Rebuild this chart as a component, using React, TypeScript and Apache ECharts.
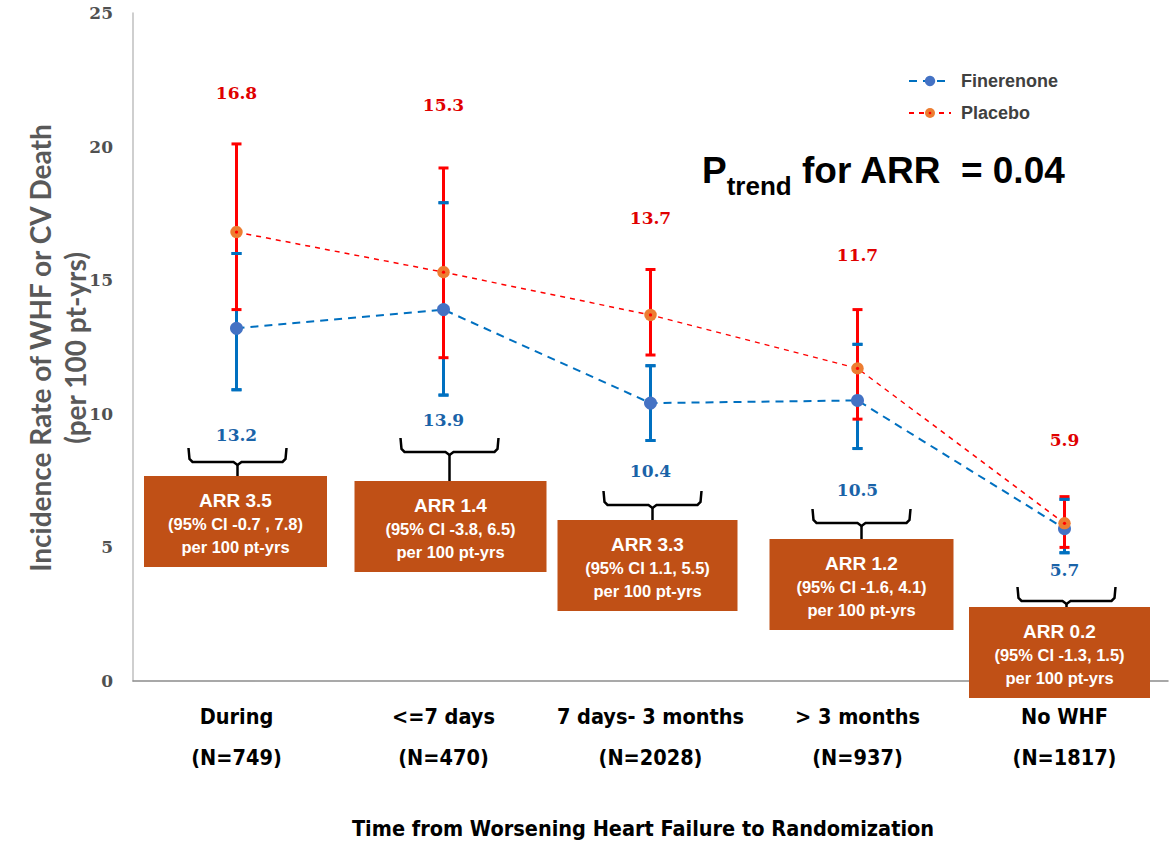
import React, { useEffect, useRef } from "react";
import * as echarts from "echarts";

// ---- data ----
const categories = ["During", "<=7 days", "7 days- 3 months", "> 3 months", "No WHF"];
const sampleSizes = ["(N=749)", "(N=470)", "(N=2028)", "(N=937)", "(N=1817)"];
const finerenone = [13.2, 13.9, 10.4, 10.5, 5.7];
const finLow = [10.9, 10.7, 9.0, 8.7, 4.8];
const finHigh = [16.0, 17.9, 11.8, 12.6, 6.8];
const placebo = [16.8, 15.3, 13.7, 11.7, 5.9];
const plaLow = [13.9, 12.1, 12.2, 9.8, 5.0];
const plaHigh = [20.1, 19.2, 15.4, 13.9, 6.9];
const arrValues = ["3.5", "1.4", "3.3", "1.2", "0.2"];
const arrCI = ["(95% CI -0.7 , 7.8)", "(95% CI -3.8, 6.5)", "(95% CI 1.1, 5.5)", "(95% CI -1.6, 4.1)", "(95% CI -1.3, 1.5)"];
const yTicks = { min: 0, max: 25, interval: 5 };

// ---- annotation layout (pixels) ----
const redLabelY = [93, 105, 218, 255, 440];
const blueLabelY = [435, 420, 471, 490, 570];
const braceTopY = [448, 438, 491, 509, 587];
const braceDx = [1, 6, 2, 4, 2];
const boxTopY = [476, 481, 520, 539, 607];
const boxW = [183, 192, 180, 184, 181];
const boxDx = [-1, 7, -3, 4, -5];

const FIN_LINE = "#0070C0";
const FIN_DOT = "#4472C4";
const PLA_LINE = "#FF0000";
const PLA_DOT = "#ED7D31";
const BOX = "#C05016";
const NARROW = "'Liberation Sans Narrow', 'DejaVu Sans Condensed', Lato, sans-serif";
const SANS = "'Liberation Sans', Arial, sans-serif";

const placeboSvg =
  '<svg xmlns="http://www.w3.org/2000/svg" width="24" height="24" viewBox="0 0 24 24"><circle cx="12" cy="12" r="11.5" fill="#ED7D31"/><circle cx="12" cy="12" r="3" fill="#FF0000"/></svg>';
const placeboSymbol = "image://data:image/svg+xml;charset=utf-8," + encodeURIComponent(placeboSvg);

function measure(text: string, font: string): number {
  const c = document.createElement("canvas").getContext("2d");
  if (!c) return text.length * 10;
  c.font = font;
  return c.measureText(text).width;
}

function errorSeries(name: string, lows: number[], highs: number[], color: string, bar: boolean, caps: boolean, z: number) {
  return {
    type: "custom",
    name,
    z,
    silent: true,
    data: lows.map((l, i) => [i, l, highs[i]]),
    renderItem: (params: any, api: any) => {
      const x = api.value(0);
      const pLo = api.coord([x, api.value(1)]);
      const pHi = api.coord([x, api.value(2)]);
      const w = 5;
      const children: any[] = [];
      const st = { stroke: color, lineWidth: 3 };
      if (bar) children.push({ type: "line", shape: { x1: pLo[0], y1: pLo[1], x2: pHi[0], y2: pHi[1] }, style: st });
      if (caps) {
        children.push({ type: "line", shape: { x1: pLo[0] - w, y1: pLo[1], x2: pLo[0] + w, y2: pLo[1] }, style: st });
        children.push({ type: "line", shape: { x1: pHi[0] - w, y1: pHi[1], x2: pHi[0] + w, y2: pHi[1] }, style: st });
      }
      return { type: "group", children };
    },
  };
}

export default function App() {
  const ref = useRef<HTMLDivElement>(null);
  useEffect(() => {
    if (!ref.current) return;
    const chart = echarts.init(ref.current, undefined, { renderer: "svg" });
    const option: any = {
      animation: false,
      backgroundColor: "#ffffff",
      grid: { left: 133, right: 7, top: 13, bottom: 160 },
      legend: {
        data: [{ name: "Finerenone" }, { name: "Placebo" }],
        orient: "vertical",
        left: 903,
        top: 67,
        itemWidth: 42,
        itemHeight: 13,
        itemGap: 14,
        textStyle: { fontFamily: SANS, fontWeight: "bold", fontSize: 18, color: "#404040", padding: [0, 0, 0, 5] },
      },
      xAxis: {
        type: "category",
        data: categories,
        boundaryGap: true,
        axisLine: { show: true, lineStyle: { color: "#8C8C8C", width: 1.5 } },
        axisTick: { show: false },
        splitLine: { show: false },
        axisLabel: {
          interval: 0,
          margin: 15,
          formatter: (v: string, i: number) => `{c|${v}}\n{n|${sampleSizes[i]}}`,
          rich: {
            c: { fontFamily: NARROW, fontWeight: "bold", fontSize: 21.5, color: "#000", lineHeight: 41 },
            n: { fontFamily: NARROW, fontWeight: "bold", fontSize: 21.5, color: "#000", lineHeight: 41 },
          },
        },
      },
      yAxis: {
        type: "value",
        min: yTicks.min,
        max: yTicks.max,
        interval: yTicks.interval,
        axisLine: { show: true, lineStyle: { color: "#BFBFBF", width: 1.5 } },
        axisTick: { show: false },
        splitLine: { show: false },
        axisLabel: { fontFamily: "DejaVu Serif", fontWeight: "bold", fontSize: 17, color: "#505050", margin: 20 },
      },
      series: [
        errorSeries("finErr", finLow, finHigh, FIN_LINE, true, true, 1),
        errorSeries("plaErr", plaLow, plaHigh, PLA_LINE, true, true, 2),
        errorSeries("finCaps", finLow, finHigh, FIN_LINE, false, true, 3),
        {
          type: "line",
          name: "Finerenone",
          data: finerenone,
          z: 4,
          symbol: "circle",
          symbolSize: 13,
          itemStyle: { color: FIN_DOT },
          lineStyle: { color: FIN_LINE, width: 2, type: [8, 6] },
        },
        {
          type: "line",
          name: "Placebo",
          data: placebo,
          z: 5,
          symbol: placeboSymbol,
          symbolSize: 13,
          itemStyle: { color: PLA_DOT },
          lineStyle: { color: PLA_LINE, width: 1.5, type: [5, 5] },
        },
      ],
    };
    chart.setOption(option);

    const graphics: any[] = [];
    graphics.push({
      type: "text",
      x: 57,
      y: 348,
      rotation: Math.PI / 2,
      style: {
        text: "Incidence Rate of WHF or CV Death\n(per 100 pt-yrs)",
        fontFamily: "Lato",
        fontWeight: "bold",
        fontSize: 28,
        lineHeight: 35,
        fill: "#595959",
        align: "center",
        verticalAlign: "middle",
      },
    });
    graphics.push({
      type: "text",
      x: 643,
      y: 828,
      style: {
        text: "Time from Worsening Heart Failure to Randomization",
        fontFamily: NARROW,
        fontWeight: "bold",
        fontSize: 21.5,
        fill: "#000",
        align: "center",
        verticalAlign: "middle",
      },
    });
    // P trend
    const pMain = 37;
    const pSub = 26;
    const px = 702;
    const wP = measure("P", `bold ${pMain}px ${SANS}`);
    const wSub = measure("trend", `bold ${pSub}px ${SANS}`);
    graphics.push({
      type: "text", x: px, y: 170,
      style: { text: "P", fontFamily: SANS, fontWeight: "bold", fontSize: pMain, fill: "#000", align: "left", verticalAlign: "middle" },
    });
    graphics.push({
      type: "text", x: px + wP, y: 186,
      style: { text: "trend", fontFamily: SANS, fontWeight: "bold", fontSize: pSub, fill: "#000", align: "left", verticalAlign: "middle" },
    });
    graphics.push({
      type: "text", x: px + wP + wSub, y: 170,
      style: { text: " for ARR  = 0.04", fontFamily: SANS, fontWeight: "bold", fontSize: pMain, fill: "#000", align: "left", verticalAlign: "middle" },
    });

    categories.forEach((c, i) => {
      const cx = chart.convertToPixel({ xAxisIndex: 0 }, c) as number;
      graphics.push({
        type: "text", x: cx, y: redLabelY[i],
        style: { text: placebo[i].toFixed(1), fontFamily: "DejaVu Serif", fontWeight: "bold", fontSize: 17, fill: "#E00000", align: "center", verticalAlign: "middle" },
      });
      graphics.push({
        type: "text", x: cx, y: blueLabelY[i],
        style: { text: finerenone[i].toFixed(1), fontFamily: "DejaVu Serif", fontWeight: "bold", fontSize: 17, fill: "#1A63A8", align: "center", verticalAlign: "middle" },
      });
      const bx = cx + braceDx[i];
      const x0 = bx - 49;
      const x1 = bx + 49;
      const yt = braceTopY[i];
      const ym = yt + 14;
      graphics.push({
        type: "polyline",
        shape: {
          points: [
            [x0, yt], [x0 + 1, ym - 3], [x0 + 4, ym], [bx - 4, ym], [bx, ym + 3],
            [bx + 4, ym], [x1 - 4, ym], [x1 - 1, ym - 3], [x1, yt],
          ],
        },
        style: { stroke: "#000", lineWidth: 2.5, fill: null },
      });
      graphics.push({
        type: "line",
        shape: { x1: bx, y1: ym + 2, x2: bx, y2: boxTopY[i] },
        style: { stroke: "#000", lineWidth: 2.5 },
      });
      const bcx = cx + boxDx[i];
      graphics.push({
        type: "rect",
        shape: { x: bcx - boxW[i] / 2, y: boxTopY[i], width: boxW[i], height: 91 },
        style: { fill: BOX },
        z: 10,
      });
      graphics.push({
        type: "text", x: bcx, y: boxTopY[i] + 47, z: 11,
        style: {
          text: `{a|ARR ${arrValues[i]}}\n{b|${arrCI[i]}}\n{b|per 100 pt-yrs}`,
          align: "center",
          verticalAlign: "middle",
          rich: {
            a: { fontFamily: SANS, fontWeight: "bold", fontSize: 19, lineHeight: 24, fill: "#fff", align: "center" },
            b: { fontFamily: SANS, fontWeight: "bold", fontSize: 16.5, lineHeight: 23, fill: "#fff", align: "center" },
          },
        },
      });
    });

    chart.setOption({ graphic: { elements: graphics } });
    return () => chart.dispose();
  }, []);
  return <div ref={ref} style={{ position: "fixed", left: 0, top: 0, width: 1175, height: 841 }} />;
}
